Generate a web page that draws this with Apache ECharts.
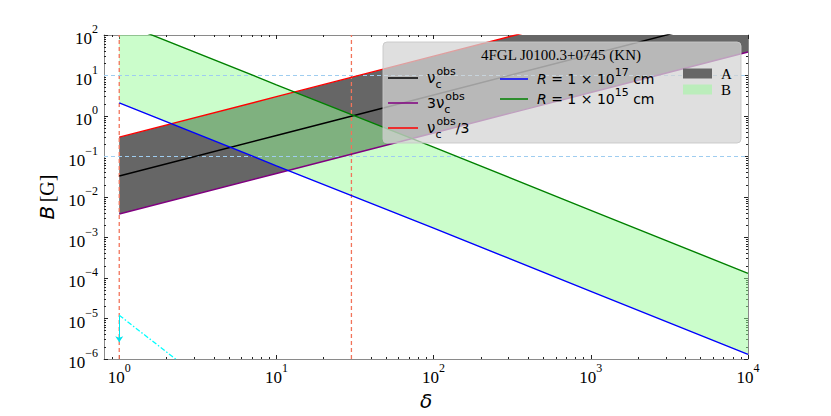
<!DOCTYPE html>
<html><head><meta charset="utf-8">
<script src="https://cdn.jsdelivr.net/npm/echarts@6/dist/echarts.min.js"></script>
<style>html,body{margin:0;padding:0;background:#fff}#c{width:831px;height:416px}</style>
</head><body><div id="c"></div>
<script>
// ---- data ----
const delta = [1, 10, 100, 1000, 10000];
const nuC = [0.033, 0.33, 3.3, 33, 330];
const threeNuC = [0.0038, 0.038, 0.38, 3.8, 38];
const nuCThird = [0.30, 3.0, 30, 300, 3000];
const radius17 = [2.1, 0.059, 0.0017, 0.000047, 0.0000013];
const radius15 = [210, 5.9, 0.17, 0.0047, 0.00013];
const cyanDelta = [1, 3];
const cyanB = [0.000012, 0.00000044];
const arrowB = [0.000012, 0.0000026];
const vLines = [1, 30];
const hLines = [0.1, 10];
const xRange = [0.8, 10000];
const yRange = [1e-6, 100];
const xMajor = [1, 10, 100, 1000, 10000];
const xMinor = [0.9, 2, 3, 4, 5, 6, 7, 8, 9, 20, 30, 40, 50, 60, 70, 80, 90, 200, 300, 400, 500, 600, 700, 800, 900, 2000, 3000, 4000, 5000, 6000, 7000, 8000, 9000];
const yMajor = [1e-6, 1e-5, 1e-4, 1e-3, 1e-2, 1e-1, 1, 10, 100];
const yMinor = [2e-6,3e-6,4e-6,5e-6,6e-6,7e-6,8e-6,9e-6,2e-5,3e-5,4e-5,5e-5,6e-5,7e-5,8e-5,9e-5,2e-4,3e-4,4e-4,5e-4,6e-4,7e-4,8e-4,9e-4,2e-3,3e-3,4e-3,5e-3,6e-3,7e-3,8e-3,9e-3,0.02,0.03,0.04,0.05,0.06,0.07,0.08,0.09,0.2,0.3,0.4,0.5,0.6,0.7,0.8,0.9,2,3,4,5,6,7,8,9,20,30,40,50,60,70,80,90];
const legendTitle = '4FGL J0100.3+0745 (KN)';

const chart = echarts.init(document.getElementById('c'), null, {renderer: 'svg'});
const pairs = (xs, ys) => xs.map((x, i) => [x, ys[i]]);
const expLabel = v => {
  const e = Math.round(Math.log10(v));
  return '{b|10}{s|' + (e < 0 ? '\u2212' + (-e) : e) + '}';
};
const serif = 'Liberation Serif';
const sans = 'DejaVu Sans';
const tickRich = {
  b: {fontFamily: serif, fontSize: 17, lineHeight: 24, verticalAlign: 'bottom', color: '#000'},
  s: {fontFamily: serif, fontSize: 12, lineHeight: 12, verticalAlign: 'top', color: '#000'}
};
const axisLineStyle = {show: true, lineStyle: {color: '#8a8a8a', width: 1}};

function makeX(pos, major, showLabel) {
  return {
    type: 'log', logBase: 10, min: xRange[0], max: xRange[1], position: pos, gridIndex: 0,
    axisLine: major ? axisLineStyle : {show: false},
    axisTick: {show: true, inside: true, length: major ? 4 : 2, customValues: major ? xMajor : xMinor, lineStyle: {color: '#222', width: 1}},
    axisLabel: showLabel ? {show: true, customValues: xMajor, margin: 3, formatter: expLabel, rich: tickRich} : {show: false},
    splitLine: {show: false}, minorTick: {show: false},
    name: showLabel ? 'δ' : '', nameLocation: 'middle', nameGap: 29,
    nameTextStyle: {fontFamily: sans, fontStyle: 'italic', fontSize: 20, color: '#000'}
  };
}
function makeY(pos, major, showLabel) {
  return {
    type: 'log', logBase: 10, min: yRange[0], max: yRange[1], position: pos, gridIndex: 0,
    axisLine: major ? axisLineStyle : {show: false},
    axisTick: {show: true, inside: true, length: major ? 4 : 2, customValues: major ? yMajor : yMinor, lineStyle: {color: '#222', width: 1}},
    axisLabel: showLabel ? {show: true, customValues: yMajor, margin: 6, formatter: expLabel, rich: tickRich} : {show: false},
    splitLine: {show: false}, minorTick: {show: false},
    name: showLabel ? '{i|B} {g|[G]}' : '', nameLocation: 'middle', nameGap: 46,
    nameTextStyle: {rich: {
      i: {fontFamily: sans, fontStyle: 'italic', fontSize: 20, color: '#000'},
      g: {fontFamily: serif, fontSize: 20, color: '#000'}
    }}
  };
}

function band(name, upper, lower, color, z) {
  return {
    name, type: 'custom', clip: true, z, silent: true,
    itemStyle: {color},
    data: delta.map((d, i) => [d, upper[i], lower[i]]),
    encode: {x: 0, y: [1, 2]},
    renderItem(params, api) {
      if (params.dataIndex !== 0) return null;
      const top = delta.map((d, i) => api.coord([d, upper[i]]));
      const bot = delta.map((d, i) => api.coord([d, lower[i]])).reverse();
      return {type: 'polygon', shape: {points: top.concat(bot)}, style: {fill: color}};
    }
  };
}
function line(name, ys, color, z, extra) {
  return Object.assign({
    name, type: 'line', data: pairs(delta, ys), showSymbol: false, symbol: 'none', clip: true, z,
    color, lineStyle: {color, width: 1.4}, silent: true
  }, extra || {});
}
function guide(name, data, color, width) {
  return {name, type: 'line', data, symbol: 'none', clip: true, z: 4, silent: true,
    color, itemStyle: {color}, lineStyle: {color, width, type: [4, 3], opacity: 1}};
}

const nuTok = '{v|ν}{c|c}{o|obs}';
const legendText = {
  nuc: nuTok,
  nuc3x: '{n|3}' + nuTok,
  nucdiv3: nuTok + '{n|/3}',
  R17: '{i|R}{n| = 1 × 10}{o|17}{n| cm}',
  R15: '{i|R}{n| = 1 × 10}{o|15}{n| cm}',
  A: '{t|A}', B: '{t|B}'
};
const legRich = {
  v: {fontFamily: sans, fontSize: 15, lineHeight: 24, color: '#000'},
  n: {fontFamily: sans, fontSize: 14, lineHeight: 24, color: '#000'},
  i: {fontFamily: sans, fontSize: 14, fontStyle: 'italic', lineHeight: 24, color: '#000'},
  c: {fontFamily: sans, fontSize: 11, lineHeight: 11, verticalAlign: 'bottom', width: 1, color: '#000'},
  o: {fontFamily: sans, fontSize: 11, lineHeight: 14, verticalAlign: 'top', color: '#000'},
  t: {fontFamily: serif, fontSize: 15, lineHeight: 24, color: '#000'}
};
function legendCol(data, left, top, icon, w, h, gap) {
  return {
    data, left, top, orient: 'vertical', itemGap: gap, itemWidth: w, itemHeight: h, icon,
    z: 30, selectedMode: false, padding: 0,
    formatter: n => legendText[n],
    textStyle: {rich: legRich, padding: [0, 0, 0, 4]}
  };
}

const series = [
  band('A', nuCThird, threeNuC, '#666666', 1),
  band('B', radius15, radius17, 'rgba(152,251,152,0.5)', 2)
];
vLines.forEach((v, i) => series.push(guide('v' + i, [[v, yRange[0]], [v, yRange[1]]], '#f2735a', 1.3)));
hLines.forEach((v, i) => series.push(guide('h' + i, [[xRange[0], v], [xRange[1], v]], '#9fcdf0', 1.2)));
series.push(
  line('nuc', nuC, '#000000', 5),
  line('nuc3x', threeNuC, '#800080', 5),
  line('nucdiv3', nuCThird, '#ff0000', 5),
  line('R17', radius17, '#0000ff', 5),
  line('R15', radius15, '#008000', 5),
  {
    name: 'cyan', type: 'line', data: pairs(cyanDelta, cyanB), symbol: 'none', clip: true, z: 5, silent: true,
    color: '#00ffff',
    lineStyle: {color: '#00ffff', width: 1.3, type: [5, 2, 1.5, 2]},
    markLine: {silent: true, symbol: ['none', 'arrow'], symbolSize: 6, label: {show: false},
      data: [[{coord: [cyanDelta[0], arrowB[0]]}, {coord: [cyanDelta[0], arrowB[1]]}]],
      lineStyle: {color: '#00e5ee', type: 'solid', width: 1}}
  }
);

const option = {
  animation: false,
  backgroundColor: '#fff',
  grid: {left: 104, right: 83, top: 35, bottom: 57},
  xAxis: [makeX('bottom', true, true), makeX('bottom', false, false), makeX('top', true, false), makeX('top', false, false)],
  yAxis: [makeY('left', true, true), makeY('left', false, false), makeY('right', true, false), makeY('right', false, false)],
  legend: [
    legendCol(['nuc', 'nuc3x', 'nucdiv3'], 388, 66, 'rect', 30, 1.5, 1),
    legendCol(['R17', 'R15'], 500, 67, 'rect', 28, 1.5, 1),
    legendCol(['A', 'B'], 683, 66, 'rect', 29, 10, 1)
  ],
  graphic: [
    {type: 'rect', z: 20, shape: {x: 383, y: 42, width: 358, height: 101, r: 4},
     style: {fill: 'rgba(212,212,212,0.75)', stroke: 'rgba(200,200,200,0.9)', lineWidth: 1}},
    {type: 'text', z: 21, style: {text: legendTitle, x: 561, y: 55, align: 'center', verticalAlign: 'middle',
     font: '15px "Liberation Serif"', fill: '#000'}}
  ],
  series
};
chart.setOption(option);
</script></body></html>
